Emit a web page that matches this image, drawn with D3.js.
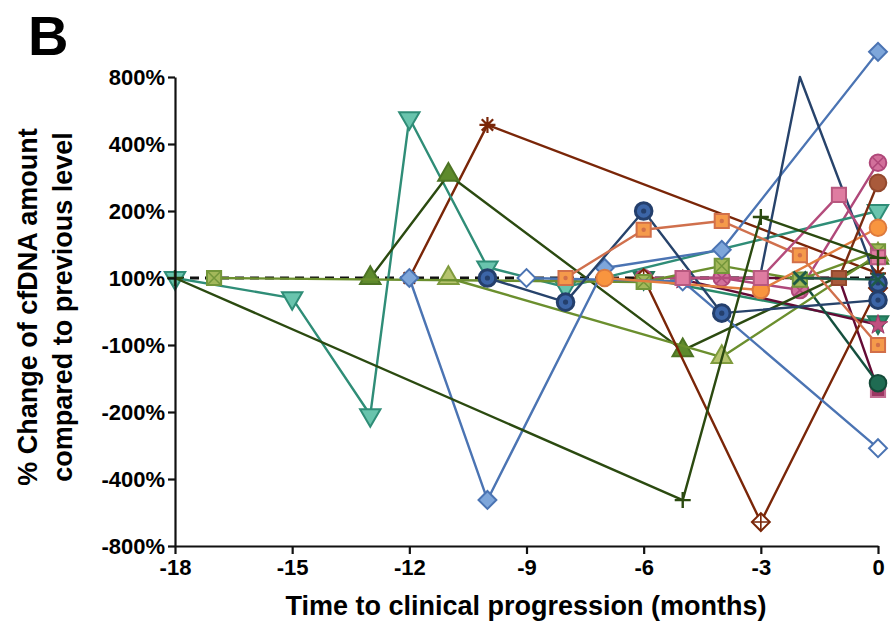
<!DOCTYPE html>
<html>
<head>
<meta charset="utf-8">
<script src="https://cdn.jsdelivr.net/npm/d3@7"></script>
<style>
  body { margin: 0; background: #fff; }
  svg text { font-family: "Liberation Sans", Arial, sans-serif; font-weight: bold; }
</style>
</head>
<body>
<div class="svg"></div>
<script>
// tick labels
var yTicks = [-800, -400, -200, -100, 100, 200, 400, 800];
var xTicks = [-18, -15, -12, -9, -6, -3, 0];

// one pair of arrays per patient: months before progression, % change
var tealTriMonths = [-18, -15, -13, -12, -10, -8, 0];
var tealTriValues = [100, 40, -209, 555, 116, 73, 200];
var darkOliveMonths = [-13, -11, -5, 0];
var darkOliveValues = [100, 308, -108, 130];
var lightOliveMonths = [-11, -4, 0];
var lightOliveValues = [100, -118, 135];
var oliveBoxMonths = [-17, -6, -4, -2, 0];
var oliveBoxValues = [100, 88, 118, 95, 140];
var blueDiaMonths = [-12, -10, -7, -4, 0];
var blueDiaValues = [100, -525, 115, 142, 950];
var openDiaMonths = [-9, -5, 0];
var openDiaValues = [100, 90, -308];
var navyMonths = [-10, -8, -6, -4, 0];
var navyValues = [100, 28, 200, -5, 34];
var spikeMonths = [-3, -2, 0];
var spikeValues = [108, 800, 85];
var orangeBoxMonths = [-8, -6, -4, -2, 0];
var orangeBoxValues = [100, 172, 185, 134, -100];
var orangeDotMonths = [-7, -3, 0];
var orangeDotValues = [100, 64, 175];
var pinkBoxMonths = [-5, -3, -1, 0];
var pinkBoxValues = [100, 100, 248, 131];
var pinkXMonths = [-6, -4, -2, 0];
var pinkXValues = [100, 100, 64, 344];
var maroonMonths = [-5, -1, 0];
var maroonValues = [100, 100, -167];
var brownMonths = [-1, 0];
var brownValues = [100, 284];
var asteriskMonths = [-12, -10, 0];
var asteriskValues = [100, 514, 107];
var crossDiaMonths = [-6, -3, 0];
var crossDiaValues = [100, -657, 70];
var plusMonths = [-18, -5, -3, 0];
var plusValues = [100, -526, 191, 130];
var tealXMonths = [-2, 0];
var tealXValues = [100, 95];
var greenDotMonths = [-2, 0];
var greenDotValues = [100, -157];
var darkTriMonths = [-6, 0];
var darkTriValues = [100, -32];
var starMonths = [-5, 0];
var starValues = [95, -40];

// drawn in this order; patients whose first point sits under another marker go first
var series = [
  {m: darkTriMonths, v: darkTriValues, line: "#2a8a6a", fill: "#2a8a6a", stroke: "#237458", shape: "triDown"},
  {m: starMonths, v: starValues, line: "#640b35", fill: "#c05080", stroke: "#a03a68", shape: "star"},
  {m: maroonMonths, v: maroonValues, line: "#640b35", fill: "#9b3762", stroke: "#c46e93", shape: "square"},
  {m: greenDotMonths, v: greenDotValues, line: "#154f3e", fill: "#1f6b52", stroke: "#134a38", shape: ["none", "circle"]},
  {m: asteriskMonths, v: asteriskValues, line: "#7a2608", fill: "none", stroke: "#7a2608", shape: "asterisk"},
  {m: pinkXMonths, v: pinkXValues, line: "#b0487a", fill: "#d2709b", stroke: "#b0487a", shape: "circleX"},
  {m: tealTriMonths, v: tealTriValues, line: "#2f8d77", fill: "#69c4ad", stroke: "#2f8d77", shape: "triDown"},
  {m: darkOliveMonths, v: darkOliveValues, line: "#2b4a10", fill: "#5e8a2c", stroke: "#4d7424", shape: "triUp"},
  {m: lightOliveMonths, v: lightOliveValues, line: "#6b8f2e", fill: "#b6c46e", stroke: "#7f9b3d", shape: "triUp"},
  {m: crossDiaMonths, v: crossDiaValues, line: "#7a2608", fill: "#ffffff", stroke: "#7a2608", shape: "diamondCross"},
  {m: oliveBoxMonths, v: oliveBoxValues, line: "#6b8f2e", fill: "#a3b85a", stroke: "#73963a", shape: "squareX"},
  {m: blueDiaMonths, v: blueDiaValues, line: "#4b74b3", fill: "#7ea6da", stroke: "#4b74b3", shape: "diamond"},
  {m: openDiaMonths, v: openDiaValues, line: "#4b74b3", fill: "#ffffff", stroke: "#4b74b3", shape: "diamond"},
  {m: navyMonths, v: navyValues, line: "#27436b", fill: "#3c65a7", stroke: "#243f6c", shape: "bullseye"},
  {m: spikeMonths, v: spikeValues, line: "#27436b", fill: "#3c65a7", stroke: "#243f6c", shape: ["none", "none", "bullseye"]},
  {m: orangeBoxMonths, v: orangeBoxValues, line: "#d0704d", fill: "#f59a4b", stroke: "#d26f49", shape: "squareDot"},
  {m: orangeDotMonths, v: orangeDotValues, line: "#e27d40", fill: "#f8953f", stroke: "#dd7a3e", shape: "circle"},
  {m: pinkBoxMonths, v: pinkBoxValues, line: "#b44c7c", fill: "#df7ca1", stroke: "#b8587f", shape: "square"},
  {m: brownMonths, v: brownValues, line: "#7a2c10", fill: "#a95a3b", stroke: "#93492e", shape: ["square", "circle"]},
  {m: plusMonths, v: plusValues, line: "#2b4a10", fill: "none", stroke: "#2b4a10", shape: "plus"},
  {m: tealXMonths, v: tealXValues, line: "#1e5a48", fill: "none", stroke: "#1e5a48", shape: "times"}
];

var w = 894, h = 624;
var svg = d3.select(".svg").append("svg").attr("width", w).attr("height", h);

var x = d3.scaleLinear().domain([-18, 0]).range([175, 878]);
// evenly spaced, piecewise scale as in the figure
var y = d3.scaleLinear().domain(yTicks).range([546, 479, 412, 345, 278, 211, 144, 77]);

svg.append("text").attr("x", 28).attr("y", 55).attr("font-size", 56).text("B");

// dashed reference at 100%
svg.append("line")
   .attr("x1", x(-18)).attr("x2", x(0))
   .attr("y1", y(100)).attr("y2", y(100))
   .attr("stroke", "#111").attr("stroke-width", 3)
   .attr("stroke-dasharray", "9,6");

var line = d3.line()
  .x(function(d) { return x(d[0]); })
  .y(function(d) { return y(d[1]); });

function crossPath(r) {
  return "M" + (-r) + "," + (-r) + "L" + r + "," + r + "M" + (-r) + "," + r + "L" + r + "," + (-r);
}
function plusPath(r) {
  return "M" + (-r) + ",0L" + r + ",0M0," + (-r) + "L0," + r;
}

function addMarker(g, s, shape) {
  var sq = d3.symbol().type(d3.symbolSquare).size(200)();
  switch (shape) {
    case "triUp":
    case "triDown":
      g.append("path").attr("d", d3.symbol().type(d3.symbolTriangle).size(180)())
       .attr("transform", shape === "triDown" ? "rotate(180)" : null)
       .attr("fill", s.fill).attr("stroke", s.stroke).attr("stroke-width", 2);
      break;
    case "square":
    case "squareX":
    case "squareDot":
      g.append("path").attr("d", sq).attr("fill", s.fill).attr("stroke", s.stroke).attr("stroke-width", 2);
      if (shape === "squareX") g.append("path").attr("d", crossPath(6)).attr("stroke", s.stroke).attr("stroke-width", 1.5);
      if (shape === "squareDot") g.append("circle").attr("r", 2.2).attr("fill", s.stroke);
      break;
    case "diamond":
    case "diamondCross":
      g.append("path").attr("d", d3.symbol().type(d3.symbolSquare).size(160)())
       .attr("transform", "rotate(45)")
       .attr("fill", s.fill).attr("stroke", s.stroke).attr("stroke-width", 2);
      if (shape === "diamondCross") g.append("path").attr("d", plusPath(8)).attr("stroke", s.stroke).attr("stroke-width", 1.6);
      break;
    case "circle":
    case "circleX":
    case "bullseye":
      g.append("circle").attr("r", 8.3).attr("fill", s.fill).attr("stroke", s.stroke).attr("stroke-width", 2);
      if (shape === "circleX") g.append("path").attr("d", crossPath(5.5)).attr("stroke", s.stroke).attr("stroke-width", 1.6);
      if (shape === "bullseye") {
        g.select("circle").attr("stroke-width", 3);
        g.append("circle").attr("r", 2.6).attr("fill", s.stroke);
      }
      break;
    case "asterisk":
      g.append("path").attr("d", plusPath(8) + crossPath(5.7)).attr("stroke", s.stroke).attr("stroke-width", 2.2);
      break;
    case "plus":
      g.append("path").attr("d", plusPath(8)).attr("stroke", s.stroke).attr("stroke-width", 2.4);
      break;
    case "times":
      g.append("path").attr("d", crossPath(6.5)).attr("stroke", s.stroke).attr("stroke-width", 2.6);
      break;
    case "star":
      g.append("path").attr("d", d3.symbol().type(d3.symbolStar).size(120)())
       .attr("fill", s.fill).attr("stroke", s.stroke).attr("stroke-width", 1);
      break;
  }
}

var plot = svg.append("g");

series.forEach(function(s) {
  var pts = s.m.map(function(d, i) { return [d, s.v[i]]; });
  var g = plot.append("g");
  g.append("path")
   .datum(pts)
   .attr("d", line)
   .attr("fill", "none")
   .attr("stroke", s.line)
   .attr("stroke-width", 2.4)
   .attr("stroke-linejoin", "round");

  g.selectAll(".mark")
   .data(pts)
   .enter()
   .append("g")
   .attr("class", "mark")
   .attr("transform", function(d) { return "translate(" + x(d[0]) + "," + y(d[1]) + ")"; })
   .each(function(d, i) {
     var shape = Array.isArray(s.shape) ? s.shape[i] : s.shape;
     addMarker(d3.select(this), s, shape);
   });
});

var yAxis = d3.axisLeft(y).tickValues(yTicks)
  .tickFormat(function(d) { return d + "%"; })
  .tickSize(7).tickPadding(3).tickSizeOuter(0);
var xAxis = d3.axisBottom(x).tickValues(xTicks)
  .tickFormat(function(d) { return String(d); })
  .tickSize(8).tickPadding(5).tickSizeOuter(0);

var yG = svg.append("g").attr("transform", "translate(" + x(-18) + ",0)").call(yAxis);
var xG = svg.append("g").attr("transform", "translate(0," + y(-800) + ")").call(xAxis);

[yG, xG].forEach(function(a) {
  a.attr("font-family", null).attr("font-size", 22);
  a.selectAll("path, line").attr("stroke", "#111").attr("stroke-width", 2.2);
  a.selectAll("text").attr("fill", "#000");
});

svg.append("text")
   .attr("transform", "translate(37,307) rotate(-90)")
   .attr("text-anchor", "middle")
   .attr("font-size", 27)
   .text("% Change of cfDNA amount");
svg.append("text")
   .attr("transform", "translate(72,307) rotate(-90)")
   .attr("text-anchor", "middle")
   .attr("font-size", 27)
   .text("compared to previous level");

svg.append("text")
   .attr("x", 526).attr("y", 615)
   .attr("text-anchor", "middle")
   .attr("font-size", 27)
   .text("Time to clinical progression (months)");
</script>
</body>
</html>
